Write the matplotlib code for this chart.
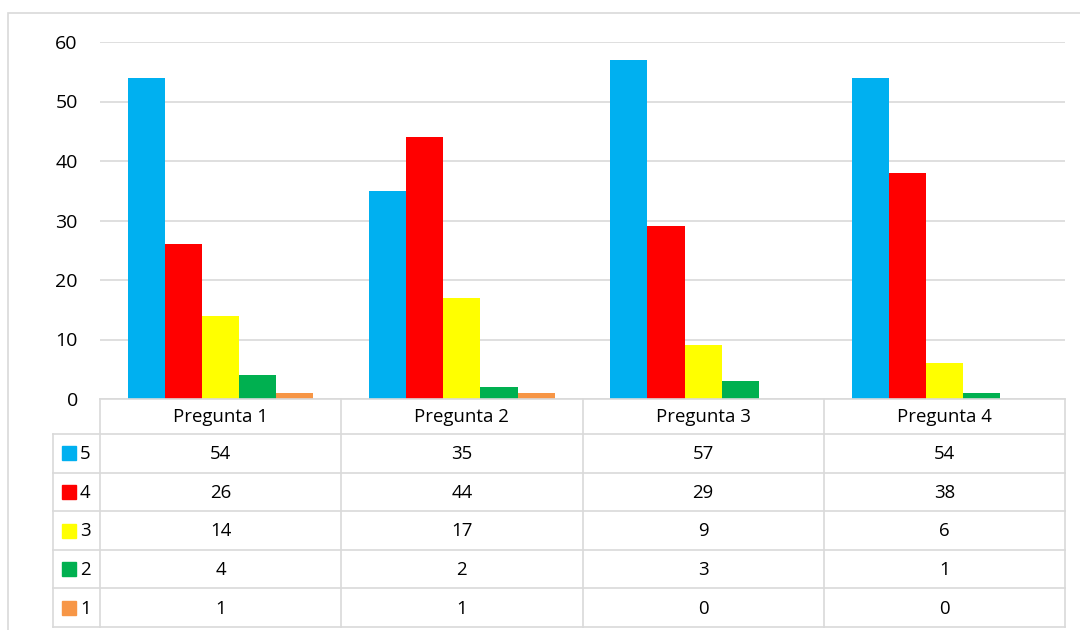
import matplotlib.pyplot as plt
from matplotlib.patches import Rectangle

categories = ['Pregunta 1', 'Pregunta 2', 'Pregunta 3', 'Pregunta 4']
series_names = ['5', '4', '3', '2', '1']
vals_5 = [54, 35, 57, 54]
vals_4 = [26, 44, 29, 38]
vals_3 = [14, 17, 9, 6]
vals_2 = [4, 2, 3, 1]
vals_1 = [1, 1, 0, 0]
yticks = [0, 10, 20, 30, 40, 50, 60]

series = [vals_5, vals_4, vals_3, vals_2, vals_1]
colors = ['#00B0F0', '#FF0000', '#FFFF00', '#00B050', '#F79646']
grid_c = '#D9D9D9'
font = 'Open Sans'
fs = 13.4

W, H = 1080, 630
fig = plt.figure(figsize=(W / 100, H / 100), dpi=100)

# outer chart frame (runs off the right and bottom edges)
fig.patches.append(Rectangle((8 / W, -0.05), 1.1, (H - 13) / H + 0.05,
                             transform=fig.transFigure, fill=False,
                             edgecolor=grid_c, lw=1.2))

# plot area in pixel coordinates
x0, x1 = 100, 1065
y_top, y_zero = 42, 399
ax = fig.add_axes([x0 / W, (H - y_zero) / H, (x1 - x0) / W, (y_zero - y_top) / H])

n = len(series)
bw = 1 / (n + 1.5)
for i, (vals, c) in enumerate(zip(series, colors)):
    xs = [k - 0.5 + 0.75 * bw + (i + 0.5) * bw for k in range(len(categories))]
    ax.bar(xs, vals, width=bw, color=c, zorder=3)

ax.set_xlim(-0.5, len(categories) - 0.5)
ax.set_ylim(0, 60)
ax.set_yticks(yticks)
ax.set_yticklabels([str(t) for t in yticks], fontsize=fs + 0.6, family=font)
ax.tick_params(axis='y', length=0, pad=16)
ax.set_xticks([])
ax.grid(axis='y', color=grid_c, lw=1.2, zorder=0)
for s in ax.spines.values():
    s.set_visible(False)

# data table below the plot, y in pixel rows
t_top, t_head, t_bot = 399, 434, 627
row_h = (t_bot - t_head) / n
tab = fig.add_axes([x0 / W, (H - t_bot) / H, (x1 - x0) / W, (t_bot - t_top) / H])
tab.set_xlim(-0.5, len(categories) - 0.5)
tab.set_ylim(t_bot, t_top)
tab.axis('off')

px = len(categories) / (x1 - x0)
lx = -0.5 - 47 * px
kw = dict(color=grid_c, lw=1.2, clip_on=False)

tab.plot([-0.5, len(categories) - 0.5], [t_top, t_top], **kw)
for r in range(n + 1):
    y = t_head + r * row_h
    tab.plot([lx, len(categories) - 0.5], [y, y], **kw)
tab.plot([lx, lx], [t_head, t_bot], **kw)
for k in range(len(categories) + 1):
    tab.plot([k - 0.5, k - 0.5], [t_top, t_bot], **kw)

for k, cat in enumerate(categories):
    tab.text(k, (t_top + t_head) / 2 + 1, cat, ha='center', va='center',
             fontsize=fs, family=font)
for r, (name, vals, c) in enumerate(zip(series_names, series, colors)):
    yc = t_head + (r + 0.5) * row_h
    tab.add_patch(Rectangle((lx + 9 * px, yc - 7), 14 * px, 14, color=c,
                            clip_on=False))
    tab.text(lx + 27 * px, yc + 1, name, ha='left', va='center',
             fontsize=fs, family=font)
    for k, v in enumerate(vals):
        tab.text(k, yc + 1, str(v), ha='center', va='center',
                 fontsize=fs, family=font)

fig.savefig('out.png', dpi=100)
